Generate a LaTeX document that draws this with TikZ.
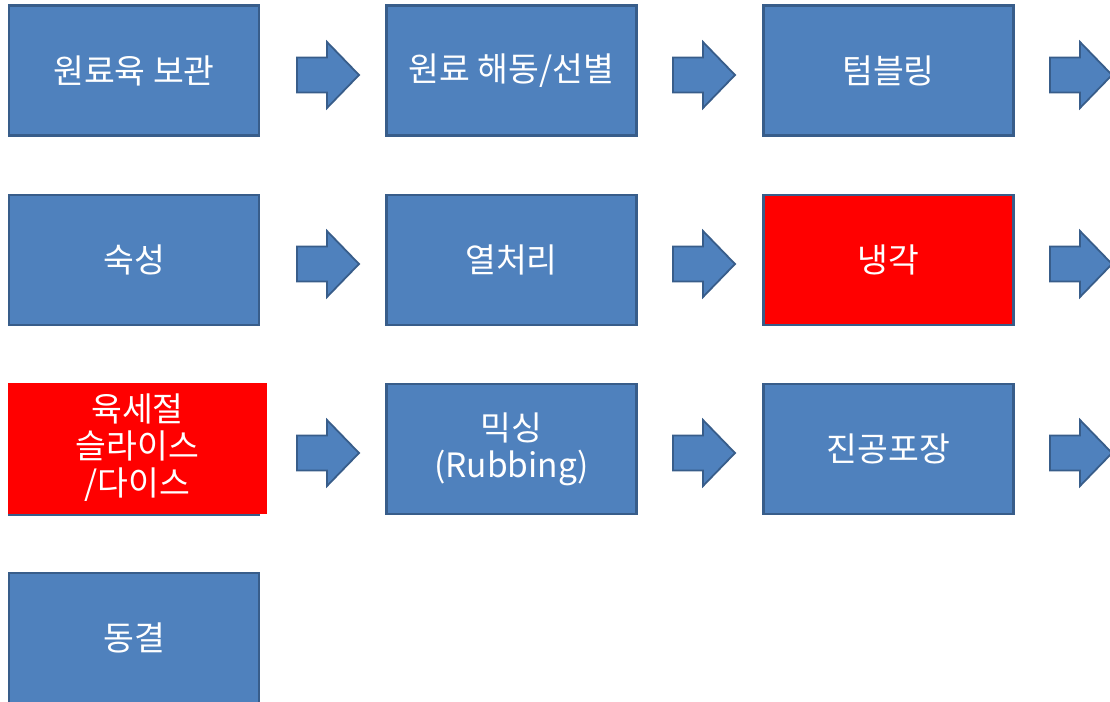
\documentclass[tikz,border=0pt]{standalone}
\usepackage{fontspec}
\setmainfont{Noto Sans CJK KR}
\definecolor{boxblue}{HTML}{4F81BD}
\definecolor{boxedge}{HTML}{385D8A}
\definecolor{boxred}{HTML}{FF0000}
\tikzset{
  stepbox/.style={draw=boxedge, line width=2.5pt, fill=boxblue, text=white,
    font=\fontsize{33.5}{37}\selectfont, align=center, inner sep=0pt,
    minimum width=250pt, minimum height=130pt},
  redbox/.style={stepbox, fill=boxred},
  blockarrow/.style={draw=boxedge, line width=1.8pt, fill=boxblue, line join=miter}
}
\newcommand{\blockarr}[2]{%
  \draw[blockarrow] (#1,#2-17.5) -- ++(30,0) -- ++(0,-15.5) -- ++(32,33)
    -- ++(-32,33) -- ++(0,-15.5) -- ++(-30,0) -- cycle;}
\begin{document}
\begin{tikzpicture}[x=1pt,y=-1pt]
\useasboundingbox (0,0) rectangle (1110,701);
\clip (0,0) rectangle (1110,701);
% row 1
\node[stepbox] (a1) at (134,70.5) {원료육 보관};
\node[stepbox] (a2) at (511.5,70.5) {원료 해동/선별};
\node[stepbox] (a3) at (888.5,70.5) {텀블링};
% row 2
\node[stepbox] (b1) at (134,260) {숙성};
\node[stepbox] (b2) at (511.5,260) {열처리};
\node[redbox] (b3) at (888.5,260) {냉각};
% row 3
\node[stepbox, draw=none, fill=boxedge, minimum width=252pt, minimum height=132pt] (c1s) at (134,449.5) {};
\node[redbox, draw=none, minimum width=259pt, minimum height=131pt] (c1) at (137.5,448) {육세절\\슬라이스\\/다이스};
\node[stepbox] (c2) at (511.5,449) {믹싱\\(Rubbing)};
\node[stepbox] (c3) at (888.5,449) {진공포장};
% row 4
\node[stepbox] (d1) at (134,638) {동결};
% arrows
\foreach \y in {75,264,453} {
  \blockarr{297}{\y}
  \blockarr{673}{\y}
  \blockarr{1050}{\y}
}
\end{tikzpicture}
\end{document}
